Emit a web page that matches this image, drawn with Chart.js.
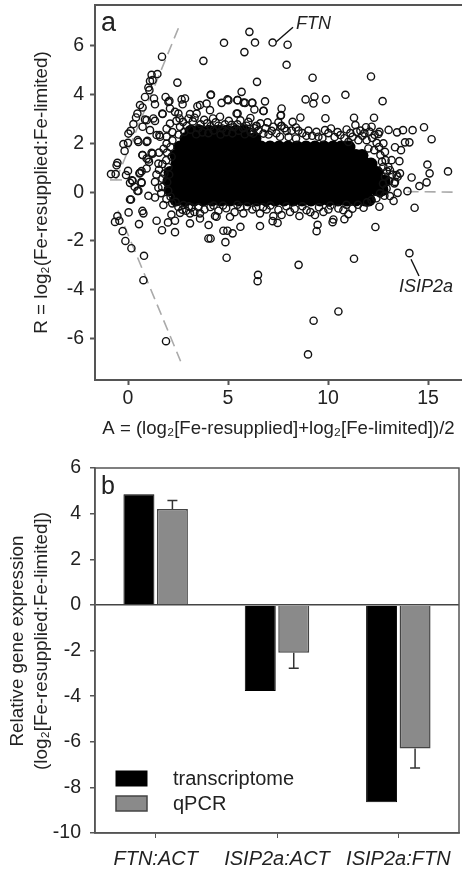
<!DOCTYPE html>
<html>
<head>
<meta charset="utf-8">
<title>Fe-resupplied vs Fe-limited expression</title>
<script src="https://cdn.jsdelivr.net/npm/chart.js@4/dist/chart.umd.min.js"></script>
<style>
  html, body { margin: 0; padding: 0; background: #fff; }
  #page { position: relative; width: 462px; height: 873px; overflow: hidden; }
  canvas { position: absolute; left: 0; filter: blur(0.35px); }
  #chartA { top: 0; }
  #chartB { top: 440px; }
</style>
</head>
<body>
<div id="page">
  <canvas id="chartA" width="462" height="440"></canvas>
  <canvas id="chartB" width="462" height="433"></canvas>
</div>
<script>
// panel a: single transcripts as [A, R]
const ringPoints = [
  [1.7,5.55],[1.47,4.84],[1.18,4.81],[1.1,4.55],[1.23,4.59],[1.02,4.29],[1.07,4.18],[.85,3.9],[.6,3.57],[.73,3.47],
  [.47,3.22],[.4,3.06],[.27,2.79],[.02,2.4],[.13,2.51],[-.23,1.97],[0,2.02],[-.17,1.69],[-.53,1.2],[-.57,1.1],
  [-.85,.74],[-.62,.74],[-.1,.7],[0,.87],[.2,.49],[.1,.38],[.33,.22],[.67,.41],[.52,.05],[.6,.79],[.93,.97],
  [.73,1.52],[1.23,1.58],[1.02,1.34],[.1,-.3],[.03,-.83],[.72,-.77],[.77,-.87],[1.02,-.15],[1.35,-.22],[.93,2.06],
  [.48,2.13],[.73,2.68],[.93,2.95],[1.27,3.02],[1.73,3.2],[1.35,3.6],[1.3,3.84],[1.88,3.9],[2.02,3.7],[2.47,4.49],
  [3.77,5.38],[4.8,6.12],[4.13,3.98],[2.85,3.84],[2.68,3.8],[2.73,3.6],[3.47,3.52],[3.93,3.63],[4.68,3.66],[4.97,3.8],
  [2.1,3.43],[2.52,3.22],[1.93,2.6],[1.43,2.34],[1.6,2.27],[1.93,2.27],[1.52,1.17],[1.35,.42],
  [6.07,6.57],[6.35,6.13],[5.82,5.74],[7.23,6.13],[7.98,6.04],[7.93,5.22],[6.45,4.52],[9.23,4.69],[12.15,4.74],
  [5.68,4.11],[5.48,3.77],[5.78,3.67],[6.2,3.66],[6.85,3.72],[8.88,3.8],[9.32,3.91],[9.27,3.63],[9.9,3.8],[10.87,3.99],
  [12.73,3.73],[7.68,3.43],[6.78,3.33],[6.32,3.39],[7.65,3.16],[8.62,3.06],[8.23,2.88],[9.87,3.03],[11.3,3.05],[12.3,3.05],
  [11.37,2.75],[11.9,2.66],[12.18,2.68],[13.03,2.55],[13.45,2.45],[13.75,2.54],[14.23,2.54],[14.8,2.66],[15.18,2.17],
  [14.07,2.04],[13.85,2.04],[13.65,1.72],[13.35,1.84],[13.57,1.27],[14.97,1.13],[15.08,.77],[16,.85],[14.93,.4],[14.57,.25],
  [14.18,.6],[13.97,.04],[13.48,.63],[13.32,.36],[13.28,-.36],[13.48,-.03],[12.57,-.6],[14.33,-.64],[11.78,-.64],[12.57,2.47],
  [8.92,2.31],[10.15,2.61],[10.93,2.57],[10.62,2.34],[7.65,2.7],[8.4,2.65],[6.98,2.86],[6.4,2.7],[5.48,3.22],
  [-.53,-.98],[-.65,-1.22],[-.43,-1.17],[.55,-1.31],[-.27,-1.6],[-.13,-2],[.17,-2.3],[.8,-2.61],[.77,-3.61],[1.9,-6.11],
  [1.43,-1.17],[2,-1.24],[2.35,-1.17],[1.7,-1.56],[2.35,-1.64],[3.1,-1.28],[4.03,-1.35],[4.02,-1.9],[4.13,-1.9],[4.87,-2.05],
  [4.93,-2.69],[4.77,-1.58],[4.97,-1.58],[2.17,-.92],[3.1,-.87],[3.6,-1.08],[4.43,-1.01],
  [5.23,-1.69],[5.62,-1.42],[6.6,-1.39],[7.23,-1.19],[7.48,-1.26],[9.48,-1.34],[9.43,-1.6],[10.23,-1.23],[10.82,-1.11],
  [12.37,-1.43],[14.07,-2.5],[11.3,-2.73],[8.53,-2.98],[6.5,-3.39],[6.48,-3.65],[10.52,-4.89],[9.28,-5.27],[9,-6.65],
  [4.15,4],[3.6,3.57],[2.07,3.74],[5.02,3.77],[5.47,3.77],[5.85,3.66],[1.72,3.22],[1.35,2.92],[.85,2.98],[1.1,2.54],
  [1.57,2.34],[.52,2.06],[.97,2.1],[1.18,1.61],[.72,1.52],[.93,1.38],[1.05,1.24],[.68,.86],[.57,.77],[.23,.46],[.68,.38],
  [.47,.05],[.15,-.3],[1.77,-.53],[2.13,-.19],[2.77,-.53],[2.6,-.85],[3.18,-.63],[3.6,-.87],[4.35,-.98],[5.1,-1.01],[5.77,-.87],
  [2.35,3.29],[3.1,3.2],[3.43,3.22],[4.1,3.36],[4.6,3.09],[5.43,3.22],[2.6,2.68],[2.1,2.81],[1.93,1.99],[2.18,1.45],
  [6.22,3.66],[6.77,3.33],[7.63,3.13],[7.68,2.72],[6.43,2.72],[7.93,2.51],[7.18,2.51],[9.85,2.54],[11.02,2.06],[11.52,2.13],
  [9.52,2.27],[8.4,2.2],[7.6,2.27],[6.77,2.4],[6.27,2.4],[11.93,2.13],[12.02,1.79],[11.43,2.47],
  [11.02,-.9],[10.27,-1.12],[10.77,-.74],[9.35,-.94],[8.57,-.98],[7.68,-.94],[7.27,-.98],[6.6,-.87],[8.1,-.81],[8.93,-.74],
  [9.77,-.81],[10.52,-.67],[6.93,-.71],[13.43,.7],[13.1,.9],[12.77,1.04],[13.18,1.31],[12.85,1.65],[12.77,2],[12.52,2.38],
  [12.85,.63],[12.93,.15],[12.6,-.05],[12.18,-.33],[13.6,.77],[13.35,.42],[13.1,-.16],
  [2.42,2.92],[2.93,2.71],[3.24,2.9],[3.52,2.62],[3.81,2.96],[4.13,2.7],[4.38,2.86],[4.72,2.61],[5.04,2.92],[5.31,2.66],
  [5.62,2.94],[5.93,2.72],[6.12,3.04],[3.33,3.05],[2.22,2.46],[2.53,2.36],[2.81,2.47],[3.12,2.56],[3.41,2.37],[3.72,2.45],
  [4.02,2.42],[4.28,2.53],[4.63,2.36],[4.92,2.46],[5.22,2.41],[5.53,2.52],[5.84,2.37],[6.13,2.46],[6.52,2.52],[7.03,2.36],
  [7.42,2.41],[8.03,2.26],[8.72,2.42],[9.21,2.31],[9.72,2.22],[10.33,2.26],[10.82,2.21],[11.23,2.27],[11.72,2.31],[12.21,2.22],
  [12.43,2.02],[12.31,1.72],[12.62,1.52],[12.88,1.31],[13.02,1.03],[13.21,.72],[1.91,1.31],[2.02,1.02],[2.06,.72],[1.82,.76],
  [1.96,.41],[1.71,.21],[2.01,.06],[1.66,-.04],[2.21,-.46],[2.52,-.61],[2.91,-.76],[3.32,-.81],[3.82,-.71],[4.12,-.61],
  [4.52,-.76],[4.91,-.66],[5.33,-.82],[5.62,-.61],[6.22,-.71],[6.41,-.62],[7.52,-.72],[8.33,-.68],[9.12,-.82],[10.02,-.71],
  [2.58,3.02],[2.75,2.88],[3.02,3.02],[3.63,2.78],[3.95,2.82],[4.25,3.02],[4.52,2.72],[4.85,2.78],[5.18,2.76],[5.47,2.78],
  [5.75,2.62],[6.02,2.88],[6.31,2.62],[6.62,2.82],[6.88,2.62],[7.27,2.68],[7.52,2.86],[7.82,2.62],[8.18,2.52],[8.52,2.52],
  [9.02,2.52],[9.42,2.47],[10.02,2.42],[10.48,2.46],[11.12,2.42],[11.62,2.52],[11.82,2.42],[12.08,2.48],[12.33,2.35],
  [12.55,1.85],[12.7,1.25],[12.95,.85],[13.05,.45],[12.75,.35],[12.82,-.15],[12.42,-.25],[11.95,-.42],[11.5,-.52],[11.22,-.68],
  [10.92,-.52],[10.12,-.55],[9.55,-.62],[8.72,-.58],[7.92,-.58],[7.12,-.55],[6.75,-.62],[5.95,-.58],[5.47,-.52],[4.75,-.55],
  [4.28,-.55],[3.52,-.62],[3.05,-.58],[2.72,-.72],[2.38,-.4],[1.92,-.28],[1.72,.55],[1.55,.92],[1.72,1.15],[1.95,1.62],
  [2.12,1.85],[1.78,1.78],[2.22,2.12],[1.55,1.62],[1.42,.72],[1.52,.18]
];

// panel a: the overplotted middle of the cloud, one list of A values per R level
const coreLevels = [2.5, 2.2, 1.85, 1.5, 1.15, .8, .45, .1, -.32];
const coreColumns = [
  [3.15,3.6,4.05,4.5,4.95,5.4,5.8],
  [2.9,3.35,3.8,4.25,4.7,5.15,5.6,5.95,6.35],
  [2.6,3.05,3.5,3.95,4.4,4.85,5.3,5.75,6.2,6.65,7.1,7.55,8,8.45,8.9,9.35,9.8,10.25,10.65,11.05],
  [2.4,2.85,3.3,3.75,4.2,4.65,5.1,5.55,6,6.45,6.9,7.35,7.8,8.25,8.7,9.15,9.6,10.05,10.5,10.95,11.4,11.7],
  [2.45,2.9,3.35,3.8,4.25,4.7,5.15,5.6,6.05,6.5,6.95,7.4,7.85,8.3,8.75,9.2,9.65,10.1,10.55,11,11.45,11.9,12.15],
  [2.1,2.55,3,3.45,3.9,4.35,4.8,5.25,5.7,6.15,6.6,7.05,7.5,7.95,8.4,8.85,9.3,9.75,10.2,10.65,11.1,11.55,12,12.45],
  [2.05,2.5,2.95,3.4,3.85,4.3,4.75,5.2,5.65,6.1,6.55,7,7.45,7.9,8.35,8.8,9.25,9.7,10.15,10.6,11.05,11.5,11.95,12.4,12.8],
  [2.1,2.55,3,3.45,3.9,4.35,4.8,5.25,5.7,6.15,6.6,7.05,7.5,7.95,8.4,8.85,9.3,9.75,10.2,10.65,11.1,11.55,12,12.45,12.7],
  [2.4,2.85,3.3,3.75,4.2,4.65,5.1,5.55,6,6.45,6.9,7.35,7.8,8.25,8.7,9.15,9.6,10.05,10.5,10.95,11.4,11.85,12.05]
];

const guideUpper = [[-.6,.5],[2.63,6.94]];
const guideLower = [[-.5,-.75],[2.63,-6.93]];
const guideFlatLeft = [[-.9,.5],[-.3,.5]];
const guideFlatRight = [[13.98,.02],[16.5,0]];
const leaderFtn = [[7.4,6.15],[8.25,6.76]];
const leaderIsip = [[14.15,-2.75],[14.55,-3.44]];

const ticksA_x = [0, 5, 10, 15];
const ticksA_y = [-6, -4, -2, 0, 2, 4, 6];

// panel b
const pairs = ['FTN:ACT', 'ISIP2a:ACT', 'ISIP2a:FTN'];
const transcriptome = [4.85, -3.78, -8.65];
const qpcr = [4.2, -2.1, -6.3];
const qpcrError = [0.38, 0.68, 0.85];
const ticksB_y = [-10, -8, -6, -4, -2, 0, 2, 4, 6];

const FONT = '"Liberation Sans", Arial, sans-serif';
const INK = '#222';
const AXIS = '#555';

const toXY = arr => arr.map(p => ({ x: p[0], y: p[1] }));
const corePoints = coreLevels.flatMap((r, i) => coreColumns[i].map(a => ({ x: a, y: r })));

function guide(points, color, width, dash) {
  return {
    data: toXY(points), showLine: true, pointRadius: 0, borderColor: color,
    borderWidth: width, borderDash: dash || [], fill: false, order: 3
  };
}

function label(ctx, text, x, y, font, rotate) {
  ctx.save();
  ctx.font = font;
  ctx.fillStyle = INK;
  ctx.textBaseline = 'middle';
  ctx.textAlign = rotate ? 'center' : 'left';
  ctx.translate(x, y);
  if (rotate) ctx.rotate(-Math.PI / 2);
  ctx.fillText(text, 0, 0);
  ctx.restore();
}

new Chart(document.getElementById('chartA'), {
  type: 'scatter',
  data: {
    datasets: [
      guide(guideUpper, '#aaa', 1.6, [11, 6]),
      guide(guideLower, '#aaa', 1.6, [11, 6]),
      guide(guideFlatLeft, '#aaa', 1.6),
      guide(guideFlatRight, '#aaa', 1.6, [11, 6]),
      guide(leaderFtn, '#111', 1.4),
      guide(leaderIsip, '#111', 1.4),
      { data: corePoints, pointRadius: 6.5, pointBackgroundColor: '#000', pointBorderWidth: 0, order: 2 },
      { data: toXY(ringPoints), pointRadius: 3.6, pointBackgroundColor: 'transparent', pointBorderColor: '#111', pointBorderWidth: 1.4, order: 1 }
    ]
  },
  options: {
    responsive: false,
    animation: false,
    layout: { autoPadding: false, padding: { top: 5, right: 0, left: 0, bottom: 0 } },
    plugins: { legend: { display: false }, tooltip: { enabled: false } },
    scales: {
      x: {
        min: -1.65, max: 16.7,
        afterBuildTicks: axis => { axis.ticks = ticksA_x.map(v => ({ value: v })); },
        afterFit: axis => { axis.height = 60; axis.paddingLeft = 0; axis.paddingRight = 0; },
        grid: { drawOnChartArea: false, color: AXIS, tickLength: 5, tickWidth: 2, tickColor: AXIS },
        border: { color: AXIS, width: 2 },
        ticks: { color: INK, font: { family: FONT, size: 19.5 }, padding: 2, maxRotation: 0 },
        title: { display: true, text: 'A = (log₂[Fe-resupplied]+log₂[Fe-limited])/2', color: INK, font: { family: FONT, size: 18.6 }, padding: { top: 6, bottom: 0 } }
      },
      y: {
        min: -7.7, max: 7.67,
        afterBuildTicks: axis => { axis.ticks = ticksA_y.map(v => ({ value: v })); },
        afterFit: axis => { axis.width = 95; axis.paddingTop = 0; axis.paddingBottom = 0; },
        grid: { drawOnChartArea: false, color: AXIS, tickLength: 5, tickWidth: 2, tickColor: AXIS },
        border: { color: AXIS, width: 2 },
        ticks: { color: INK, font: { family: FONT, size: 19.5 }, padding: 6 },
        title: { display: true, text: 'R = log₂(Fe-resupplied:Fe-limited)', color: INK, font: { family: FONT, size: 18.8 }, padding: { top: 31, bottom: 0 } }
      }
    }
  },
  plugins: [{
    id: 'panelA',
    afterDraw(chart) {
      const { ctx, chartArea: area, scales: { x, y } } = chart;
      ctx.save();
      ctx.strokeStyle = AXIS;
      ctx.lineWidth = 2;
      ctx.beginPath();
      ctx.moveTo(area.left, area.top);
      ctx.lineTo(area.right, area.top);
      ctx.stroke();
      ctx.restore();
      label(ctx, 'a', 101, 24, '27px ' + FONT);
      label(ctx, 'FTN', x.getPixelForValue(8.4), y.getPixelForValue(6.88), 'italic 18px ' + FONT);
      label(ctx, 'ISIP2a', x.getPixelForValue(13.55), y.getPixelForValue(-3.9), 'italic 18px ' + FONT);
    }
  }]
});

new Chart(document.getElementById('chartB'), {
  type: 'bar',
  data: {
    labels: pairs,
    datasets: [
      { label: 'transcriptome', data: transcriptome, backgroundColor: '#000', borderColor: '#000', borderWidth: 1, categoryPercentage: 0.552, barPercentage: 0.925 },
      { label: 'qPCR', data: qpcr, backgroundColor: '#8a8a8a', borderColor: '#444', borderWidth: 1.5, categoryPercentage: 0.552, barPercentage: 0.925 }
    ]
  },
  options: {
    responsive: false,
    animation: false,
    layout: { autoPadding: false, padding: { top: 28, right: 3, left: 0, bottom: 0 } },
    plugins: { legend: { display: false }, tooltip: { enabled: false } },
    scales: {
      x: {
        afterFit: axis => { axis.height = 40; axis.paddingLeft = 0; axis.paddingRight = 0; },
        grid: { offset: false, drawOnChartArea: false, color: AXIS, tickLength: 5, tickColor: AXIS },
        border: { color: AXIS, width: 1.5 },
        ticks: { color: INK, font: { family: FONT, size: 20, style: 'italic' }, padding: 9, maxRotation: 0 }
      },
      y: {
        min: -10, max: 6,
        afterBuildTicks: axis => { axis.ticks = ticksB_y.map(v => ({ value: v })); },
        afterFit: axis => { axis.width = 95; axis.paddingTop = 0; axis.paddingBottom = 0; },
        grid: {
          color: c => (c.tick && c.tick.value === 0 ? '#444' : 'transparent'),
          lineWidth: 1.5, tickLength: 5, tickColor: AXIS
        },
        border: { color: AXIS, width: 1.5 },
        ticks: { color: INK, font: { family: FONT, size: 19.5 }, padding: 9 }
      }
    }
  },
  plugins: [{
    id: 'panelB',
    afterDatasetsDraw(chart) {
      const { ctx, scales: { y } } = chart;
      const bars = chart.getDatasetMeta(1).data;
      ctx.save();
      ctx.strokeStyle = '#333';
      ctx.lineWidth = 1.5;
      qpcr.forEach((v, i) => {
        const tip = v >= 0 ? v + qpcrError[i] : v - qpcrError[i];
        const px = bars[i].x;
        ctx.beginPath();
        ctx.moveTo(px, y.getPixelForValue(v));
        ctx.lineTo(px, y.getPixelForValue(tip));
        ctx.moveTo(px - 5, y.getPixelForValue(tip));
        ctx.lineTo(px + 5, y.getPixelForValue(tip));
        ctx.stroke();
      });
      ctx.restore();
    },
    afterDraw(chart) {
      const { ctx, chartArea: area } = chart;
      ctx.save();
      ctx.strokeStyle = AXIS;
      ctx.lineWidth = 1.5;
      ctx.strokeRect(area.left, area.top, area.right - area.left, area.bottom - area.top);
      ctx.restore();

      label(ctx, 'b', 101, 47, '25px ' + FONT);
      label(ctx, 'Relative gene expression', 18, 201, '18.8px ' + FONT, true);
      label(ctx, '(log₂[Fe-resupplied:Fe-limited])', 42, 201, '18.8px ' + FONT, true);

      // legend inside the plot, lower left
      chart.data.datasets.forEach((ds, i) => {
        const top = 331 + i * 25;
        ctx.save();
        ctx.fillStyle = ds.backgroundColor;
        ctx.strokeStyle = ds.borderColor;
        ctx.lineWidth = ds.borderWidth;
        ctx.fillRect(116, top, 31, 15);
        ctx.strokeRect(116, top, 31, 15);
        ctx.restore();
        label(ctx, ds.label, 173, top + 8, '20px ' + FONT);
      });
    }
  }]
});
</script>
</body>
</html>
